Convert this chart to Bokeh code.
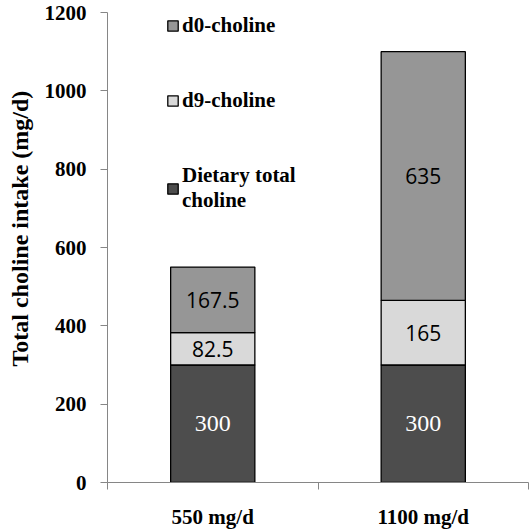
from bokeh.plotting import figure
from bokeh.models import ColumnDataSource, FixedTicker, Legend, LegendItem, LabelSet, Title
from bokeh.core.properties import value
from bokeh.embed import file_html
from bokeh.resources import INLINE

categories = ["550 mg/d", "1100 mg/d"]
dietary = [300, 300]
d9 = [82.5, 165]
d0 = [167.5, 635]
series_names = ["Dietary total\ncholine", "d9-choline", "d0-choline"]
colors = ["#4d4d4d", "#d9d9d9", "#969696"]
y_ticks = [0, 200, 400, 600, 800, 1000, 1200]
y_title = "Total choline intake (mg/d)"

xs = [i + 0.5 for i in range(len(categories))]
b1 = [0] * len(categories)
t1 = [b + v for b, v in zip(b1, dietary)]
t2 = [b + v for b, v in zip(t1, d9)]
t3 = [b + v for b, v in zip(t2, d0)]

p = figure(width=530, height=531, x_range=(0, len(categories)), y_range=(0, 1200),
           output_backend="svg", toolbar_location=None,
           min_border_left=107, min_border_right=2, min_border_top=12, min_border_bottom=47)
p.outline_line_color = None
p.xgrid.visible = False
p.ygrid.visible = False

layers = [(b1, t1, dietary), (t1, t2, d9), (t2, t3, d0)]
renderers = []
for i, ((bot, top, vals), c) in enumerate(zip(layers, colors)):
    src = ColumnDataSource(dict(x=xs, bottom=bot, top=top,
                                mid=[(b + t) / 2 for b, t in zip(bot, top)],
                                lab=[("%g" % v) for v in vals]))
    r = p.vbar(x="x", bottom="bottom", top="top", width=0.4, source=src,
               fill_color=c, line_color="black", line_width=1.3)
    renderers.append(r)
    is_diet = i == 0
    p.add_layout(LabelSet(x="x", y="mid", text="lab", source=src,
                          text_align="center", text_baseline="middle",
                          text_font=value("Liberation Serif" if is_diet else "Open Sans"),
                          text_font_size=value("24px" if is_diet else "21px"),
                          text_color=value("white" if is_diet else "black")))

legend = Legend(items=[LegendItem(label=series_names[2], renderers=[renderers[2]]),
                       LegendItem(label=series_names[1], renderers=[renderers[1]]),
                       LegendItem(label=series_names[0], renderers=[renderers[0]])],
                orientation="vertical")
legend.background_fill_alpha = 0
legend.border_line_color = None
legend.label_text_font = "Liberation Serif"
legend.label_text_font_style = "bold"
legend.label_text_font_size = "21px"
legend.label_text_color = "black"
legend.label_text_line_height = 1.15
legend.glyph_width = 13
legend.glyph_height = 13
legend.label_standoff = 3
legend.spacing = 50
legend.margin = 0
legend.padding = 0
legend.label_height = 24
legend.location = (59, 269)
p.add_layout(legend)

# y title (placed outside the y axis, aligned like the reference)
p.add_layout(Title(text=y_title, align="left", offset=116, standoff=13,
                   vertical_align="top",
                   text_font="Liberation Serif", text_font_style="bold",
                   text_font_size="24px", text_color="black"), "left")

# x axis
p.xaxis.ticker = FixedTicker(ticks=xs, minor_ticks=list(range(len(categories) + 1)))
p.xaxis.major_label_overrides = {x: c for x, c in zip(xs, categories)}
p.xaxis.major_tick_out = 0
p.xaxis.major_tick_in = 0
p.xaxis.minor_tick_out = 7
p.xaxis.minor_tick_in = 0
p.xaxis.major_label_standoff = 15
p.xaxis.major_label_text_font = "Liberation Serif"
p.xaxis.major_label_text_font_style = "bold"
p.xaxis.major_label_text_font_size = "21px"
p.xaxis.major_label_text_color = "black"
p.xaxis.axis_line_color = "#868686"
p.xaxis.minor_tick_line_color = "#868686"

# y axis
p.yaxis.ticker = FixedTicker(ticks=y_ticks)
p.yaxis.minor_tick_line_color = None
p.yaxis.major_tick_out = 7
p.yaxis.major_tick_in = 0
p.yaxis.major_label_standoff = 14
p.yaxis.major_label_text_font = "Liberation Serif"
p.yaxis.major_label_text_font_style = "bold"
p.yaxis.major_label_text_font_size = "21px"
p.yaxis.major_label_text_color = "black"
p.yaxis.axis_line_color = "#868686"
p.yaxis.major_tick_line_color = "#868686"

open("out.html", "w").write(file_html(p, INLINE))
